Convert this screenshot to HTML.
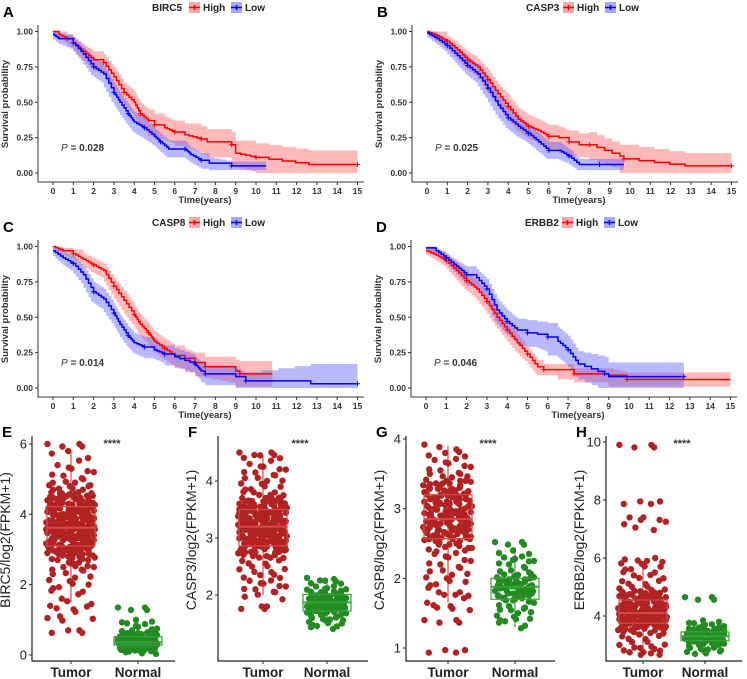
<!DOCTYPE html>
<html><head><meta charset="utf-8">
<style>
html,body{margin:0;padding:0;background:#fff;}
svg{display:block;font-family:"Liberation Sans",Arial,sans-serif;}
</style></head>
<body>
<svg id="fig" width="747" height="679" viewBox="0 0 747 679"></svg>
<script>
// ---- KM data (time in years, survival prob, CI half-width) ----
const xTicks=[0,1,2,3,4,5,6,7,8,9,10,11,12,13,14,15];
const yTicks=[0,0.25,0.5,0.75,1];
const yTickLabels=["0.00","0.25","0.50","0.75","1.00"];
const genes=["BIRC5","CASP3","CASP8","ERBB2"];
const pvals=["0.028","0.025","0.014","0.046"];
const panelLetters=["A","B","C","D"];

const aHighT=[0,0.3,0.7,1,1.5,2,2.5,3,3.5,4,4.3,4.7,5,5.5,6,6.5,7.3,7.6,8.8,9,10,12.6,15];
const aHighS=[1,0.98,0.95,0.92,0.86,0.80,0.78,0.68,0.57,0.50,0.42,0.37,0.34,0.32,0.29,0.27,0.24,0.22,0.20,0.14,0.11,0.06,0.06];
const aHighC=[0.01,0.02,0.03,0.04,0.05,0.06,0.06,0.07,0.07,0.08,0.08,0.08,0.08,0.08,0.08,0.08,0.09,0.09,0.09,0.09,0.1,0.1,0.1];
const aLowT=[0,0.3,1,1.5,2,2.5,3,3.3,3.7,4,4.5,5,5.3,5.7,6.5,6.8,7.3,7.7,8.8,10.5];
const aLowS=[0.98,0.95,0.92,0.84,0.75,0.70,0.57,0.50,0.42,0.36,0.32,0.26,0.22,0.17,0.17,0.13,0.09,0.07,0.05,0.05];
const aLowC=[0.02,0.03,0.04,0.05,0.06,0.06,0.07,0.07,0.07,0.07,0.07,0.06,0.06,0.06,0.06,0.05,0.05,0.04,0.03,0.03];

const bHighT=[0,0.5,1,1.5,2,2.5,3,3.5,4,4.5,5,5.5,6,6.5,7,7.5,8,9.5,9.7,12.7,15];
const bHighS=[1,0.97,0.93,0.87,0.80,0.75,0.66,0.56,0.47,0.38,0.33,0.30,0.26,0.25,0.22,0.20,0.20,0.12,0.10,0.05,0.05];
const bHighC=[0.01,0.03,0.04,0.05,0.06,0.06,0.07,0.07,0.08,0.08,0.08,0.08,0.08,0.08,0.08,0.08,0.09,0.08,0.1,0.09,0.09];
const bLowT=[0,0.5,1,1.5,2,2.5,3,3.5,4,4.5,5,5.5,6,6.5,7,7.5,8.5,9.7];
const bLowS=[0.99,0.95,0.90,0.83,0.76,0.70,0.60,0.48,0.39,0.33,0.28,0.22,0.16,0.16,0.12,0.06,0.06,0.06];
const bLowC=[0.02,0.03,0.04,0.05,0.06,0.06,0.07,0.07,0.07,0.07,0.06,0.06,0.06,0.06,0.05,0.04,0.04,0.04];

const cHighT=[0,0.5,1,1.5,2,2.5,3,3.5,4,4.3,4.7,5,5.5,6,6.5,7,7.5,9,9.2,10.8];
const cHighS=[1,0.97,0.95,0.91,0.87,0.83,0.72,0.62,0.52,0.45,0.39,0.33,0.28,0.23,0.21,0.18,0.15,0.12,0.10,0.10];
const cHighC=[0.01,0.02,0.03,0.04,0.05,0.05,0.06,0.07,0.07,0.07,0.07,0.07,0.07,0.07,0.07,0.07,0.07,0.08,0.09,0.09];
const cLowT=[0,0.5,1,1.5,2,2.5,3,3.3,3.7,4,4.5,5,5.5,6,7,7.3,7.5,9,9.5,12.7,15];
const cLowS=[0.97,0.92,0.88,0.80,0.68,0.63,0.53,0.45,0.37,0.32,0.29,0.27,0.24,0.22,0.17,0.12,0.10,0.08,0.05,0.03,0.03];
const cLowC=[0.02,0.04,0.05,0.06,0.07,0.07,0.07,0.07,0.07,0.07,0.07,0.06,0.06,0.06,0.06,0.06,0.06,0.06,0.06,0.14,0.14];

const dHighT=[0,0.5,1,1.5,2,2.5,3,3.5,4,4.5,5,5.5,5.8,6.5,7.3,9,9.9,15];
const dHighS=[0.97,0.94,0.90,0.83,0.76,0.70,0.61,0.50,0.41,0.32,0.24,0.15,0.13,0.13,0.10,0.09,0.06,0.06];
const dHighC=[0.02,0.03,0.04,0.05,0.06,0.06,0.06,0.06,0.06,0.06,0.05,0.05,0.04,0.04,0.04,0.05,0.05,0.05];
const dLowT=[0,0.5,1,1.5,2,2.5,3,3.5,4,4.5,5,5.5,6,6.5,7,7.5,8.8,9,12.7];
const dLowS=[0.99,0.97,0.92,0.86,0.80,0.78,0.70,0.55,0.47,0.41,0.39,0.38,0.36,0.33,0.27,0.17,0.10,0.08,0.08];
const dLowC=[0.01,0.02,0.03,0.04,0.06,0.06,0.07,0.08,0.08,0.08,0.09,0.09,0.1,0.1,0.1,0.09,0.12,0.1,0.1];

// ---- Box plot data ----
const boxTitles=["BIRC5/log2(FPKM+1)","CASP3/log2(FPKM+1)","CASP8/log2(FPKM+1)","ERBB2/log2(FPKM+1)"];
const boxLetters=["E","F","G","H"];
const groups=["Tumor","Normal"];
const eTicks=[0,2,4,6], fTicks=[2,3,4], gTicks=[1,2,3,4], hTicks=[4,6,8,10];
// [whiskerLow, q1, median, q3, whiskerHigh]
const eTumorBox=[1.5,3.1,3.62,4.22,5.8], eNormalBox=[0.1,0.28,0.36,0.52,0.9];
const fTumorBox=[2.0,2.86,3.2,3.5,4.45], fNormalBox=[1.5,1.72,1.87,2.01,2.3];
const gTumorBox=[1.65,2.57,2.85,3.2,3.9], gNormalBox=[1.3,1.7,1.88,2.0,2.45];
const hTumorBox=[2.7,3.75,4.1,4.55,5.7], hNormalBox=[2.8,3.15,3.3,3.45,3.9];

const eTumorPts=[6,6,5.8,5.6,5.4,5.3,5.2,5.1,5.0,4.9,4.9,4.8,4.8,4.7,4.7,4.6,4.6,4.5,4.5,4.4,4.4,4.3,4.3,4.2,4.2,4.1,4.1,4.0,4.0,4.0,3.9,3.9,3.9,3.8,3.8,3.8,3.7,3.7,3.7,3.6,3.6,3.6,3.6,3.5,3.5,3.5,3.4,3.4,3.4,3.3,3.3,3.3,3.2,3.2,3.2,3.1,3.1,3.0,3.0,2.9,2.9,2.8,2.8,2.7,2.7,2.6,2.5,2.5,2.4,2.3,2.2,2.1,2.0,1.9,1.8,1.6,1.45,1.4,1.3,1.1,1.05,0.7,0.7,4.5,4.3,4.1,3.9,3.7,3.5,3.3,3.1,2.9,3.8,3.6,3.4,4.0,4.2,3.0,2.6,4.6];
const eNormalPts=[1.35,1.35,1.0,0.95,0.9,0.8,0.75,0.7,0.65,0.6,0.6,0.55,0.55,0.5,0.5,0.5,0.45,0.45,0.45,0.4,0.4,0.4,0.38,0.36,0.35,0.35,0.33,0.3,0.3,0.3,0.28,0.26,0.25,0.22,0.2,0.2,0.18,0.15,0.12,0.1,0.45,0.35,0.25,0.55,0.42];
const fTumorPts=[4.5,4.5,4.45,4.4,4.3,4.25,4.2,4.15,4.1,4.05,4.0,3.95,3.9,3.85,3.8,3.8,3.75,3.7,3.7,3.65,3.6,3.6,3.55,3.5,3.5,3.45,3.45,3.4,3.4,3.35,3.35,3.3,3.3,3.25,3.25,3.2,3.2,3.2,3.15,3.15,3.1,3.1,3.05,3.05,3.0,3.0,2.95,2.95,2.9,2.9,2.85,2.85,2.8,2.75,2.7,2.7,2.65,2.6,2.55,2.5,2.45,2.4,2.35,2.3,2.25,2.2,2.15,2.1,2.05,1.97,1.8,1.8,3.6,3.4,3.2,3.0,2.8,3.3,3.1,2.9,3.5,3.7];
const fNormalPts=[2.3,2.28,2.25,2.2,2.15,2.12,2.1,2.05,2.02,2.0,1.98,1.95,1.93,1.9,1.9,1.88,1.87,1.85,1.83,1.82,1.8,1.78,1.76,1.75,1.72,1.7,1.68,1.65,1.62,1.6,1.57,1.55,1.5,1.48,1.45,1.92,1.86,1.8,1.95,1.75];
const gTumorPts=[3.92,3.85,3.8,3.75,3.7,3.65,3.6,3.55,3.5,3.5,3.45,3.4,3.4,3.35,3.3,3.3,3.25,3.2,3.2,3.15,3.1,3.1,3.05,3.0,3.0,2.95,2.95,2.9,2.9,2.85,2.85,2.8,2.8,2.75,2.75,2.7,2.7,2.65,2.6,2.6,2.55,2.5,2.45,2.4,2.35,2.3,2.25,2.2,2.15,2.1,2.05,2.0,1.95,1.9,1.8,1.8,1.75,1.65,1.6,1.58,1.4,1.4,0.97,0.97,3.0,2.8,2.6,3.2,3.4,2.9,2.7,3.1];
const gNormalPts=[2.52,2.52,2.4,2.35,2.3,2.28,2.25,2.2,2.15,2.1,2.05,2.02,2.0,1.98,1.95,1.92,1.9,1.9,1.88,1.85,1.82,1.8,1.78,1.75,1.72,1.7,1.65,1.6,1.58,1.55,1.5,1.45,1.42,1.4,1.32,1.95,1.85,1.75];
const hTumorPts=[9.9,9.9,7.95,7.95,7.4,7.4,7.25,7.05,6.0,5.95,5.9,5.8,5.7,5.6,5.5,5.4,5.3,5.2,5.1,5.0,4.95,4.9,4.85,4.8,4.75,4.7,4.65,4.6,4.55,4.5,4.45,4.4,4.35,4.3,4.25,4.2,4.2,4.15,4.1,4.1,4.05,4.0,4.0,3.95,3.9,3.9,3.85,3.8,3.8,3.75,3.7,3.65,3.6,3.55,3.5,3.45,3.4,3.3,3.2,3.1,3.0,2.95,2.9,2.8,2.75,2.75,4.3,4.0,3.7,4.5,3.9,4.2];
const hNormalPts=[4.65,4.65,3.85,3.8,3.75,3.7,3.65,3.6,3.55,3.5,3.48,3.45,3.42,3.4,3.38,3.35,3.33,3.3,3.28,3.25,3.22,3.2,3.18,3.15,3.12,3.1,3.05,3.0,2.95,2.9,2.85,2.8,2.78,3.3,3.4,3.2];

// ---- drawing helpers ----
const NS="http://www.w3.org/2000/svg";
const svg=document.getElementById('fig');
function mk(tag,attrs,parent,text){const e=document.createElementNS(NS,tag);for(const k in attrs)e.setAttribute(k,attrs[k]);if(text!==undefined)e.textContent=text;(parent||svg).appendChild(e);return e;}

const kmSets=[[aHighT,aHighS,aHighC,aLowT,aLowS,aLowC],[bHighT,bHighS,bHighC,bLowT,bLowS,bLowC],[cHighT,cHighS,cHighC,cLowT,cLowS,cLowC],[dHighT,dHighS,dHighC,dLowT,dLowS,dLowC]];
const kmOffsets=[[0,0],[374,0],[0,215],[373,215]];
const SUB=4; // visual sub-steps per segment (rendering style)

// expand each segment drop into several small visual steps
function expand(T,V){
  const pts=[[T[0],V[0]]];
  for(let i=1;i<T.length;i++){
    const drop=V[i]-V[i-1], t0=T[i-1], t1=T[i];
    if(Math.abs(drop)>0.03 && t1-t0>0.2){
      for(let s=1;s<=SUB;s++) pts.push([t0+(t1-t0)*s/SUB, V[i-1]+drop*s/SUB]);
    } else pts.push([t1,V[i]]);
  }
  return pts;
}
function stepPath(T,S,fx,fy){const P=expand(T,S);let d='M'+fx(P[0][0])+','+fy(P[0][1]);for(let i=1;i<P.length;i++){d+=' H'+fx(P[i][0])+' V'+fy(P[i][1]);}return d;}
function bandPath(T,S,C,fx,fy){
  const up=S.map((s,i)=>Math.min(1,s+C[i])), lo=S.map((s,i)=>Math.max(0,s-C[i]));
  const U=expand(T,up), L=expand(T,lo);
  let d='M'+fx(U[0][0])+','+fy(U[0][1]);
  for(let i=1;i<U.length;i++) d+=' H'+fx(U[i][0])+' V'+fy(U[i][1]);
  d+=' V'+fy(L[L.length-1][1]);
  for(let i=L.length-1;i>0;i--) d+=' V'+fy(L[i][1])+' H'+fx(L[i-1][0]);
  d+=' V'+fy(L[0][1])+' Z';return d;
}

kmSets.forEach((set,p)=>{
  const [ox,oy]=kmOffsets[p];
  const g=mk('g',{},svg);
  
  
  const fx=t=>ox+53+t*20.3, fy=s=>oy+173-s*141.5;
  const letter=mk('text',{x:ox+3,y:oy+17,'font-size':15,'font-weight':'bold'},g,panelLetters[p]);
  
  
  const lg=mk('g',{},g);
  
  
  mk('text',{x:ox+152,y:oy+11,'font-size':10,'font-weight':'bold',fill:'#222'},lg,genes[p]);
  [['High','#ff0000','#f7a8a8',189],['Low','#0000ff','#a8a8f7',231]].forEach(([lab,col,fill,lx])=>{
    const e=mk('g',{},lg);
    
    
    mk('rect',{x:ox+lx,y:oy+2,width:11,height:11,fill:fill},e);
    mk('line',{x1:ox+lx,x2:ox+lx+11,y1:oy+7.5,y2:oy+7.5,stroke:col,'stroke-width':1.5},e);
    mk('line',{x1:ox+lx+5.5,x2:ox+lx+5.5,y1:oy+5,y2:oy+10,stroke:col,'stroke-width':1.5},e);
    mk('text',{x:ox+lx+14,y:oy+11,'font-size':10,'font-weight':'bold',fill:'#222'},e,lab);
  });
  const series=[[set[0],set[1],set[2],'#ff0000','rgba(255,80,80,0.4)','high'],[set[3],set[4],set[5],'#0000ff','rgba(80,80,255,0.4)','low']];
  series.forEach(([T,S,C,col,fill,nm])=>{
    const b=mk('path',{d:bandPath(T,S,C,fx,fy),fill:fill,stroke:'none'},g);
    
    
  });
  series.forEach(([T,S,C,col,fill,nm])=>{
    const l=mk('path',{d:stepPath(T,S,fx,fy),fill:'none',stroke:col,'stroke-width':1.5},g);
    
    
    for(let i=2;i<T.length;i+=2){
      const c=mk('path',{d:'M'+(fx(T[i])-2.5)+','+fy(S[i])+' h5 M'+fx(T[i])+','+(fy(S[i])-2.5)+' v5',stroke:col,'stroke-width':1},g);
      
      
    }
  });
  const ax=mk('path',{d:'M'+(ox+38)+','+(oy+25)+' V'+(oy+182)+' H'+(ox+364),stroke:'#333',fill:'none','stroke-width':1},g);
  
  
  yTicks.forEach((v,i)=>{
    mk('line',{x1:ox+35,x2:ox+38,y1:fy(v),y2:fy(v),stroke:'#333'},g);
    const t=mk('text',{x:ox+33,y:fy(v)+3,'font-size':8.5,'font-weight':'bold','text-anchor':'end',fill:'#333'},g,yTickLabels[i]);
    
    
  });
  xTicks.forEach(v=>{
    mk('line',{x1:fx(v),x2:fx(v),y1:oy+182,y2:oy+185,stroke:'#333'},g);
    const t=mk('text',{x:fx(v),y:oy+194,'font-size':8.5,'font-weight':'bold','text-anchor':'middle',fill:'#333'},g,String(v));
    
    
  });
  const yt=mk('text',{x:0,y:0,transform:'translate('+(ox+8)+','+(oy+104)+') rotate(-90)','font-size':9.5,'font-weight':'bold','text-anchor':'middle',fill:'#333'},g,'Survival probability');
  
  
  const xt=mk('text',{x:ox+205,y:oy+203,'font-size':9.5,'font-weight':'bold','text-anchor':'middle',fill:'#333'},g,'Time(years)');
  
  
  const pv=mk('text',{x:ox+61,y:oy+151,'font-size':10,'font-weight':'bold',fill:'#333'},g);
  
  
  mk('tspan',{'font-style':'italic','font-weight':'normal'},pv,'P');
  mk('tspan',{},pv,' = '+pvals[p]);
});

// ---- box plots ----
const boxPanels=[
 {ax:32,tx:71,nx:138,v0:0,y0:655,v1:6,y1:444,ticks:eTicks,tb:eTumorBox,nb:eNormalBox,tp:eTumorPts,np:eNormalPts,right:175,star:112},
 {ax:218,tx:263,nx:327,v0:2,y0:595,v1:4,y1:481,ticks:fTicks,tb:fTumorBox,nb:fNormalBox,tp:fTumorPts,np:fNormalPts,right:368,star:300},
 {ax:406,tx:448,nx:515,v0:1,y0:648,v1:4,y1:439,ticks:gTicks,tb:gTumorBox,nb:gNormalBox,tp:gTumorPts,np:gNormalPts,right:555,star:488},
 {ax:606,tx:643,nx:705,v0:4,y0:616,v1:10,y1:442,ticks:hTicks,tb:hTumorBox,nb:hNormalBox,tp:hTumorPts,np:hNormalPts,right:742,star:682}
];
const jit=[-0.9,0.35,-0.2,0.75,-0.6,0.1,0.95,-0.4,0.55,-0.8,0.25,-0.05,0.65,-0.7,0.45,-0.3,0.85,-0.95,0.15,-0.5];
// cloud copies per value: [x-jitter shift index, y pixel nudge]
const copies=[[0,0],[7,2.5],[13,-2.5],[4,1]];
boxPanels.forEach((P,k)=>{
  const g=mk('g',{},svg);
  
  
  const fy=v=>P.y0+(v-P.v0)*(P.y1-P.y0)/(P.v1-P.v0);
  const lt=mk('text',{x:P.ax-30,y:437,'font-size':15,'font-weight':'bold'},g,boxLetters[k]);
  
  
  [[P.tx,P.tb,P.tp,'#b22222','#d84a4a','tumor',24,4],[P.nx,P.nb,P.np,'#228b22','#3aa13a','normal',20,3]].forEach(([cx,b,pts,col,bc,nm,spread,nc])=>{
    const bw=24;
    const grp=mk('g',{},g);
    
    
    mk('line',{x1:cx,x2:cx,y1:fy(b[0]),y2:fy(b[4]),stroke:bc,'stroke-width':1.2},grp);
    pts.forEach((v,i)=>{
      const inner = v>=b[1]-0.3*(b[3]-b[1]) && v<=b[3]+0.3*(b[3]-b[1]);
      const n = inner?nc:2;
      for(let c=0;c<n;c++){
        const [js,dy]=copies[c];
        const c1=mk('circle',{cx:cx+jit[(i+js)%jit.length]*spread+((i*7+c*3)%5-2),cy:fy(v)+dy,r:3.2,fill:col},grp);
        
        
      }
    });
    mk('rect',{x:cx-bw,y:fy(b[3]),width:bw*2,height:fy(b[1])-fy(b[3]),fill:'none',stroke:bc,'stroke-width':1.2},grp);
    mk('line',{x1:cx-bw,x2:cx+bw,y1:fy(b[2]),y2:fy(b[2]),stroke:bc,'stroke-width':2},grp);
  });
  const axp=mk('path',{d:'M'+P.ax+',436 V661 H'+P.right,stroke:'#222',fill:'none','stroke-width':1.2},g);
  
  
  P.ticks.forEach(v=>{
    mk('line',{x1:P.ax-3,x2:P.ax,y1:fy(v),y2:fy(v),stroke:'#222'},g);
    const t=mk('text',{x:P.ax-5,y:fy(v)+4.5,'font-size':13,'text-anchor':'end',fill:'#222'},g,String(v));
    
    
  });
  [[P.tx,groups[0]],[P.nx,groups[1]]].forEach(([x,lab])=>{
    mk('line',{x1:x,x2:x,y1:661,y2:664,stroke:'#222'},g);
    const t=mk('text',{x:x,y:677,'font-size':13.5,'font-weight':'bold','text-anchor':'middle',fill:'#222'},g,lab);
    
    
  });
  const yt=mk('text',{x:0,y:0,transform:'translate('+(P.ax-22)+',540) rotate(-90)','font-size':14,'text-anchor':'middle',fill:'#222'},g,boxTitles[k]);
  
  
  const st=mk('text',{x:P.star,y:447,'font-size':11,'font-weight':'bold','text-anchor':'middle',fill:'#333'},g,'****');
  
  
});
</script>
</body></html>
